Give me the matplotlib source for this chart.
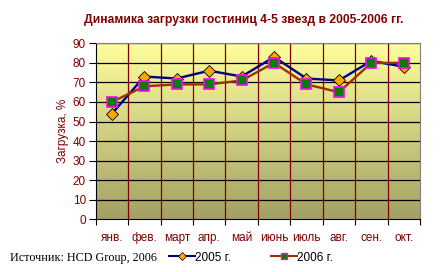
import matplotlib
matplotlib.use("Agg")
import matplotlib.pyplot as plt
import numpy as np
from matplotlib.colors import LinearSegmentedColormap
from matplotlib.lines import Line2D

months = ["янв.", "фев.", "март", "апр.", "май", "июнь", "июль", "авг.", "сен.", "окт."]
load_2005 = [54, 73, 72, 76, 73, 83, 72, 71, 81, 78]
load_2006 = [60, 68, 69, 69, 71, 80, 69, 65, 80, 80]
yticks = [0, 10, 20, 30, 40, 50, 60, 70, 80, 90]

plt.rcParams['font.family'] = ['Liberation Sans', 'DejaVu Sans']
dark_red = '#800000'

fig = plt.figure(figsize=(4.48, 2.72), dpi=100)
ax = fig.add_axes([0.2136, 0.1937, 0.7239, 0.6471])

n = len(months)
x = np.arange(n)

# gradient background
cmap = LinearSegmentedColormap.from_list('bg', ['#FFFF9E', '#A3A065'])
grad = np.linspace(0, 1, 256).reshape(-1, 1)
ax.imshow(grad, cmap=cmap, aspect='auto', extent=[-0.5, n - 0.5, 0, 90],
          origin='upper', zorder=0, interpolation='bicubic')
ax.set_xlim(-0.5, n - 0.5)
ax.set_ylim(0, 90)

for yv in yticks[1:]:
    ax.axhline(yv, color='black', lw=0.9, zorder=1)
for b in np.arange(0.5, n - 0.5, 1):
    ax.axvline(b, color=dark_red, lw=0.9, zorder=1)

ax.plot(x, load_2005, color='#000080', lw=1.7, marker='D', markersize=6,
        markerfacecolor='#FFA500', markeredgecolor='black', markeredgewidth=0.6, zorder=3)
ax.plot(x, load_2006, color='#993300', lw=1.7, marker='s', markersize=6.5,
        markerfacecolor='#008000', markeredgecolor='#FF00FF', markeredgewidth=1.2, zorder=4)

ax.set_yticks(yticks)
ax.set_xticks(np.arange(-0.5, n, 1))
ax.set_xticklabels([])
ax.tick_params(axis='x', which='major', length=4, direction='out', color='black')
ax.tick_params(axis='y', length=5, direction='out', color='black', labelcolor=dark_red, labelsize=8.5, pad=2)
for xi, m in zip(x, months):
    ax.text(xi, -0.125, m, transform=ax.get_xaxis_transform(), ha='center', va='baseline',
            color=dark_red, fontsize=8.5)

for s in ['top', 'right']:
    ax.spines[s].set_color('#808080')
for s in ['left', 'bottom']:
    ax.spines[s].set_color('black')

ax.set_ylabel('Загрузка, %', color=dark_red, fontsize=8.5, labelpad=3)

fig.text(0.543, 0.926, 'Динамика загрузки гостиниц 4-5 звезд в 2005-2006 гг.',
         ha='center', va='center', color=dark_red, fontsize=8.7, fontweight='bold')

fig.text(0.022, 0.053, 'Источник: HCD Group, 2006', ha='left', va='center',
         fontsize=8.7, family=['Liberation Serif', 'DejaVu Serif'])

h1 = Line2D([], [], color='#000080', lw=1.5, marker='D', markersize=4,
            markerfacecolor='#FFA500', markeredgecolor='black', markeredgewidth=0.5)
h2 = Line2D([], [], color='#993300', lw=1.5, marker='s', markersize=4,
            markerfacecolor='#008000', markeredgecolor='#FF00FF', markeredgewidth=1)
fig.legend([h1, h2], ['2005 г.', '2006 г.'], loc='center left', bbox_to_anchor=(0.378, 0.053),
           ncol=2, frameon=False, fontsize=8.5, handlelength=2.2, handletextpad=0.0,
           columnspacing=3.4, borderpad=0, borderaxespad=0)

fig.savefig('out.png', dpi=100)
